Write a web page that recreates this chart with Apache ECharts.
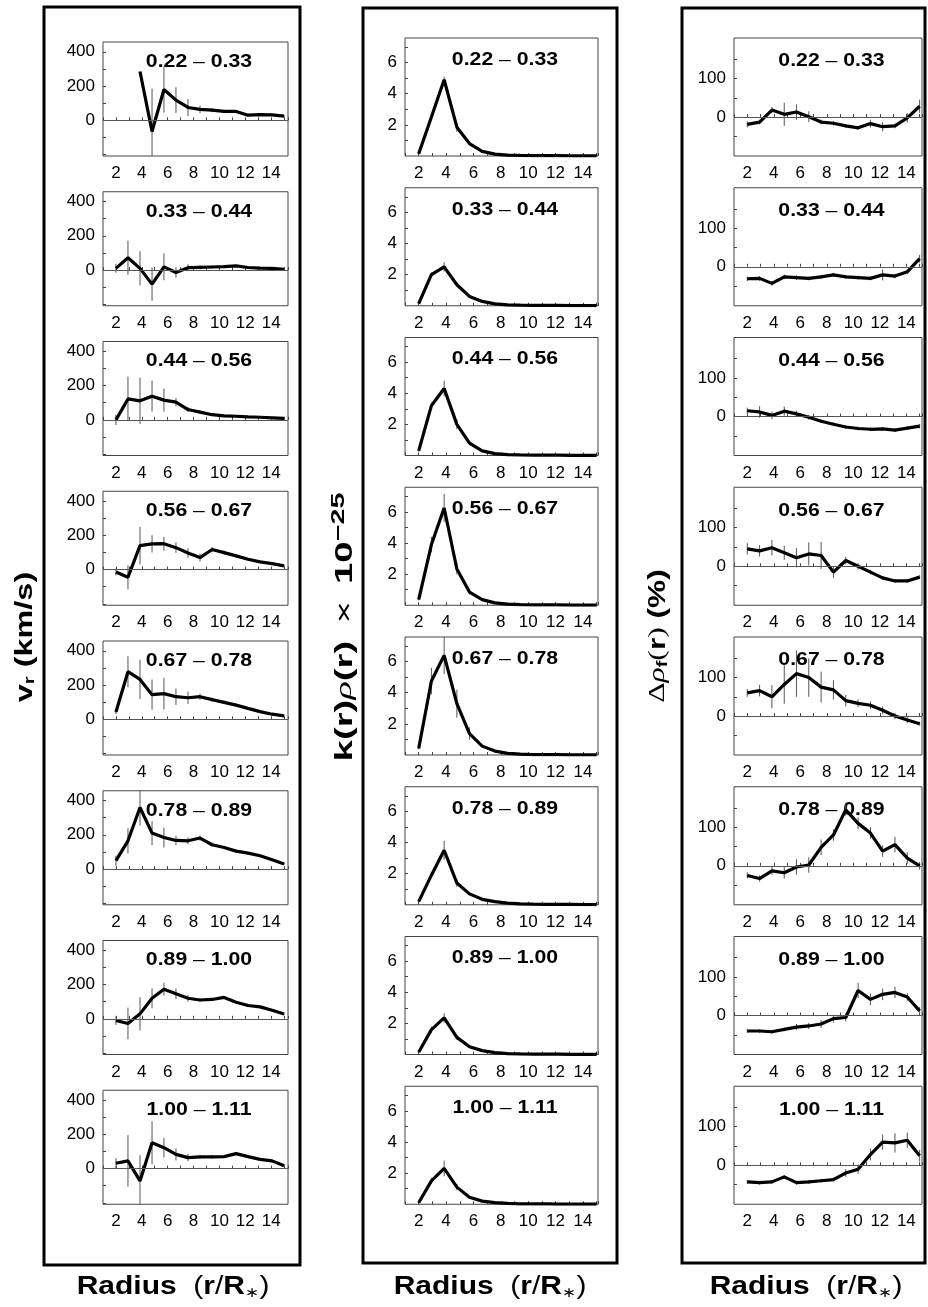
<!DOCTYPE html>
<html><head><meta charset="utf-8">
<script src="https://cdn.jsdelivr.net/npm/echarts@6/dist/echarts.min.js"></script>
<style>html,body{margin:0;padding:0;background:#fff}#c{width:928px;height:1307px}</style>
</head><body><div id="c"></div>
<script>
// radial sample positions (r/R*)
const xs = [2, 2.93, 3.86, 4.79, 5.71, 6.64, 7.57, 8.5, 9.43, 10.36, 11.29, 12.21, 13.14, 14.07, 15];
const binLow  = ['0.22','0.33','0.44','0.56','0.67','0.78','0.89','1.00'];
const binHigh = ['0.33','0.44','0.56','0.67','0.78','0.89','1.00','1.11'];

// column 1: v_r (km/s)
const vrValues = [
  [null, null, 285, -65, 180, 118, 75, 64, 60, 52, 52, 30, 33, 32, 25],
  [10, 72, 10, -82, 19, -14, 14, 16, 18, 20, 25, 15, 12, 10, 5],
  [0, 122, 111, 138, 115, 103, 60, 45, 30, 23, 21, 17, 15, 12, 8],
  [-14, -45, 140, 150, 151, 128, 97, 70, 117, 99, 80, 60, 45, 35, 22],
  [43, 278, 233, 144, 150, 132, 126, 132, 115, 99, 83, 64, 45, 30, 20],
  [49, 165, 359, 210, 184, 167, 165, 181, 142, 126, 105, 93, 78, 55, 30],
  [-10, -27, 29, 120, 173, 146, 120, 110, 113, 125, 97, 78, 70, 50, 28],
  [31, 45, -72, 151, 122, 83, 64, 68, 68, 70, 87, 70, 54, 45, 16]
];
const vrErrors = [
  [0, 0, 0, 250, 135, 75, 50, 22, 12, 10, 8, 6, 5, 5, 4],
  [25, 100, 100, 97, 78, 30, 20, 12, 10, 8, 6, 6, 5, 5, 4],
  [30, 130, 135, 90, 68, 25, 15, 10, 8, 6, 5, 5, 4, 4, 3],
  [20, 70, 110, 50, 40, 30, 28, 24, 15, 12, 10, 8, 6, 5, 4],
  [12, 90, 115, 88, 92, 48, 36, 18, 12, 10, 8, 6, 5, 5, 4],
  [30, 73, 105, 70, 58, 27, 20, 15, 12, 10, 8, 6, 5, 5, 4],
  [25, 92, 97, 58, 38, 31, 20, 12, 10, 8, 6, 6, 5, 5, 4],
  [30, 150, 150, 125, 57, 35, 21, 12, 10, 8, 6, 6, 5, 5, 4]
];

// column 2: k(r) rho(r) x 10^-25
const krValues = [
  [0.15, 2.5, 4.9, 1.85, 0.8, 0.3, 0.12, 0.06, 0.04, 0.03, 0.02, 0.02, 0.01, 0.01, 0.01],
  [0.13, 2.0, 2.5, 1.35, 0.6, 0.28, 0.12, 0.06, 0.04, 0.03, 0.02, 0.02, 0.01, 0.01, 0.01],
  [0.3, 3.2, 4.3, 2.0, 0.8, 0.3, 0.12, 0.06, 0.04, 0.03, 0.02, 0.02, 0.01, 0.01, 0.01],
  [0.36, 3.9, 6.25, 2.33, 0.85, 0.36, 0.15, 0.07, 0.04, 0.03, 0.02, 0.02, 0.01, 0.01, 0.01],
  [0.42, 4.75, 6.4, 3.3, 1.38, 0.57, 0.25, 0.1, 0.05, 0.03, 0.02, 0.02, 0.01, 0.01, 0.01],
  [0.2, 1.9, 3.5, 1.4, 0.7, 0.35, 0.2, 0.1, 0.06, 0.04, 0.03, 0.02, 0.02, 0.01, 0.01],
  [0.15, 1.6, 2.35, 1.1, 0.5, 0.25, 0.12, 0.06, 0.04, 0.03, 0.02, 0.02, 0.01, 0.01, 0.01],
  [0.1, 1.5, 2.3, 1.1, 0.45, 0.2, 0.1, 0.05, 0.03, 0.02, 0.02, 0.01, 0.01, 0.01, 0.01]
];
const krErrors = [
  [0.05, 0.15, 0.2, 0.3, 0.1, 0.05, 0.02, 0, 0, 0, 0, 0, 0, 0, 0],
  [0.05, 0.15, 0.3, 0.15, 0.1, 0.05, 0.02, 0, 0, 0, 0, 0, 0, 0, 0],
  [0.05, 0.2, 0.5, 0.3, 0.1, 0.05, 0.02, 0, 0, 0, 0, 0, 0, 0, 0],
  [0.05, 0.5, 0.9, 0.35, 0.15, 0.05, 0.02, 0, 0, 0, 0, 0, 0, 0, 0],
  [0.05, 0.85, 1.2, 0.9, 0.4, 0.1, 0.04, 0, 0, 0, 0, 0, 0, 0, 0],
  [0.05, 0.2, 0.6, 0.25, 0.1, 0.05, 0.02, 0, 0, 0, 0, 0, 0, 0, 0],
  [0.05, 0.2, 0.3, 0.15, 0.05, 0.03, 0.02, 0, 0, 0, 0, 0, 0, 0, 0],
  [0.05, 0.2, 0.5, 0.2, 0.05, 0.03, 0.02, 0, 0, 0, 0, 0, 0, 0, 0]
];

// column 3: delta rho_f (%)
const drValues = [
  [-19, -13, 18, 7, 13, 1, -13, -16, -23, -28, -17, -25, -23, -2, 28],
  [-31, -30, -43, -26, -28, -30, -26, -21, -26, -28, -30, -21, -24, -13, 21],
  [15, 12, 3, 14, 7, -2, -12, -20, -27, -31, -33, -32, -35, -30, -25],
  [45, 40, 48, 35, 22, 32, 28, -15, 15, 0, -15, -30, -38, -38, -28],
  [60, 66, 50, 82, 110, 100, 75, 68, 40, 33, 28, 15, 0, -10, -20],
  [-25, -33, -13, -18, -3, 2, 48, 80, 145, 110, 85, 38, 55, 20, 0],
  [-40, -40, -42, -36, -30, -27, -22, -8, -5, 65, 42, 55, 60, 48, 12],
  [-43, -45, -43, -30, -45, -43, -40, -37, -20, -10, 28, 60, 58, 65, 25]
];
const drErrors = [
  [8, 6, 8, 30, 20, 14, 6, 6, 5, 5, 10, 12, 6, 12, 17],
  [6, 6, 6, 6, 6, 5, 5, 5, 5, 5, 5, 14, 6, 6, 10],
  [8, 15, 10, 12, 8, 6, 5, 5, 5, 5, 5, 5, 5, 5, 6],
  [15, 15, 20, 18, 25, 30, 35, 15, 10, 8, 6, 5, 5, 5, 5],
  [10, 15, 30, 50, 60, 50, 40, 25, 15, 10, 10, 10, 8, 8, 5],
  [8, 8, 10, 15, 20, 20, 20, 15, 15, 15, 15, 15, 20, 15, 10],
  [5, 5, 5, 5, 8, 8, 10, 10, 10, 20, 15, 15, 15, 10, 10],
  [5, 5, 5, 5, 5, 5, 5, 5, 10, 12, 15, 20, 25, 20, 15]
];

// tick values
const vrTicks = [-200, -100, 0, 100, 200, 300, 400];
const vrLabels = [0, 200, 400];
const krTicks = [1, 2, 3, 4, 5, 6, 7];
const krLabels = [2, 4, 6];
const drTicks = [-50, 0, 50, 100, 150];
const drLabels = [0, 100];

const FONT = '"Liberation Sans", Arial, Helvetica, sans-serif';
const SERIF = '"Liberation Serif", "DejaVu Serif", serif';
const PITCH = 149.75;

const cols = [
  {vals: vrValues, errs: vrErrors, yMin: -208, yMax: 457, ticks: vrTicks, labels: vrLabels,
   left: 103, width: 185, top: 42, height: 114, xMax: 15.3, zero: true, titleY: 62},
  {vals: krValues, errs: krErrors, yMin: 0, yMax: 7.58, ticks: krTicks, labels: krLabels,
   left: 405, width: 193, top: 38, height: 118, xMax: 15.1, zero: false, titleY: 60},
  {vals: drValues, errs: drErrors, yMin: -101, yMax: 205, ticks: drTicks, labels: drLabels,
   left: 734, width: 188, top: 38, height: 118, xMax: 15.18, zero: true, titleY: 61.5}
];

function errRender(params, api) {
  const x = api.value(0), y = api.value(1), e = api.value(2);
  const a = api.coord([x, y + e]), b = api.coord([x, y - e]);
  const cs = params.coordSys;
  const clamp = v => Math.max(cs.y, Math.min(cs.y + cs.height, v));
  return {type: 'line', shape: {x1: a[0], y1: clamp(a[1]), x2: b[0], y2: clamp(b[1])},
          style: {stroke: '#555', lineWidth: 1}};
}

const grid = [], xAxis = [], yAxis = [], series = [], graphic = [];
cols.forEach((c, ci) => {
  for (let r = 0; r < 8; r++) {
    const gi = ci * 8 + r;
    const top = c.top + r * PITCH;
    grid.push({left: c.left, top: top, width: c.width, height: c.height, show: true,
               borderColor: '#444', borderWidth: 1, backgroundColor: 'transparent'});
    xAxis.push({gridIndex: gi, type: 'value', min: 1, max: c.xMax, interval: 1,
      axisLine: {show: false}, splitLine: {show: false},
      axisTick: {show: true, inside: true, length: 3, lineStyle: {color: '#444'}},
      axisLabel: {fontSize: 17, color: '#000', fontFamily: FONT, margin: 9,
        formatter: v => (v % 2 === 0 && v >= 2 && v <= 14) ? String(v) : ''}});
    yAxis.push({gridIndex: gi, type: 'value', min: c.yMin, max: c.yMax,
      axisLine: {show: false}, splitLine: {show: false},
      axisTick: {show: true, inside: true, length: 3, customValues: c.ticks, lineStyle: {color: '#444'}},
      axisLabel: {customValues: c.labels, fontSize: 17, color: '#000', fontFamily: FONT, margin: 8}});
    const lineData = xs.map((x, i) => [x, c.vals[r][i]]);
    const s = {type: 'line', xAxisIndex: gi, yAxisIndex: gi, data: lineData, symbol: 'none',
      showSymbol: false, lineStyle: {color: '#000', width: 3.2}, silent: true, z: 3, animation: false};
    if (c.zero) {
      s.markLine = {silent: true, symbol: ['none', 'none'], label: {show: false}, animation: false,
        lineStyle: {color: '#555', width: 1, type: 'solid'}, data: [{yAxis: 0}]};
    }
    series.push(s);
    series.push({type: 'custom', xAxisIndex: gi, yAxisIndex: gi, silent: true, z: 2, animation: false,
      renderItem: errRender, encode: {x: 0, y: 1},
      data: xs.map((x, i) => [x, c.vals[r][i], c.errs[r][i]]).filter(d => d[1] !== null && d[2] > 0)});
    graphic.push({type: 'text', x: c.left + c.width / 2 + 3.5, y: c.titleY + r * PITCH, silent: true,
      scaleX: 1.18,
      style: {text: '{b|' + binLow[r] + '}{d| \u2013 }{b|' + binHigh[r] + '}',
        textAlign: 'center', textVerticalAlign: 'middle',
        rich: {b: {fontSize: 18, fontWeight: 'bold', fontFamily: FONT, fill: '#000'},
               d: {fontSize: 18, fontWeight: 'normal', fontFamily: FONT, fill: '#000'}}}});
  }
});

// outer boxes
const boxes = [[44, 7, 256, 1258], [363, 8, 254, 1255], [682, 8, 243, 1255]];
boxes.forEach(b => graphic.push({type: 'rect', silent: true, shape: {x: b[0], y: b[1], width: b[2], height: b[3]},
  style: {fill: 'none', stroke: '#000', lineWidth: 3}}));

// bottom axis titles
const radiusX = [173, 490, 806];
radiusX.forEach(x => graphic.push({type: 'text', x: x, y: 1287, silent: true, scaleX: 1.2,
  style: {text: '{b|Radius}{n|  (}{b|r}{n|/}{b|R}{s|\u2217}{n|)}', textAlign: 'center', textVerticalAlign: 'middle',
    rich: {b: {fontSize: 25, fontWeight: 'bold', fontFamily: FONT, fill: '#000'},
           n: {fontSize: 25, fontFamily: FONT, fill: '#000'},
           s: {fontSize: 14, fontFamily: FONT, fill: '#000', verticalAlign: 'bottom', padding: [12, 0, 0, 0]}}}}));

// rotated y titles
graphic.push({type: 'text', x: 25, y: 637, rotation: Math.PI / 2, scaleX: 1.35, silent: true,
  style: {text: '{b|v}{s|r}{b| (km/s)}', textAlign: 'center', textVerticalAlign: 'middle',
    rich: {b: {fontSize: 24, fontWeight: 'bold', fontFamily: FONT, fill: '#000'},
           s: {fontSize: 15, fontWeight: 'bold', fontFamily: FONT, fill: '#000', padding: [10, 0, 0, 0]}}}});
graphic.push({type: 'text', x: 345, y: 627, rotation: Math.PI / 2, scaleX: 1.6, silent: true,
  style: {text: '{b|k(r)}{i|\u03c1}{b|(r)}{n| \u00d7 }{b|10}{p|\u221225}', textAlign: 'center', textVerticalAlign: 'middle',
    rich: {b: {fontSize: 24, fontWeight: 'bold', fontFamily: FONT, fill: '#000'},
           i: {fontSize: 24, fontStyle: 'italic', fontFamily: SERIF, fill: '#000'},
           n: {fontSize: 24, fontFamily: FONT, fill: '#000', padding: [0, 4, 0, 4]},
           p: {fontSize: 18, fontWeight: 'bold', fontFamily: FONT, fill: '#000', padding: [0, 0, 12, 0]}}}});
graphic.push({type: 'text', x: 658, y: 636, rotation: Math.PI / 2, scaleX: 1.32, silent: true,
  style: {text: '{n|\u0394}{i|\u03c1}{s|f}{n|(}{b|r}{n|)}{b| (%)}', textAlign: 'center', textVerticalAlign: 'middle',
    rich: {b: {fontSize: 24, fontWeight: 'bold', fontFamily: FONT, fill: '#000'},
           i: {fontSize: 24, fontStyle: 'italic', fontFamily: SERIF, fill: '#000'},
           n: {fontSize: 24, fontFamily: SERIF, fill: '#000'},
           s: {fontSize: 15, fontWeight: 'bold', fontFamily: FONT, fill: '#000', padding: [10, 0, 0, 0]}}}});

const chart = echarts.init(document.getElementById('c'), null, {renderer: 'canvas'});
chart.setOption({animation: false, backgroundColor: '#fff', grid, xAxis, yAxis, series, graphic});
</script></body></html>
